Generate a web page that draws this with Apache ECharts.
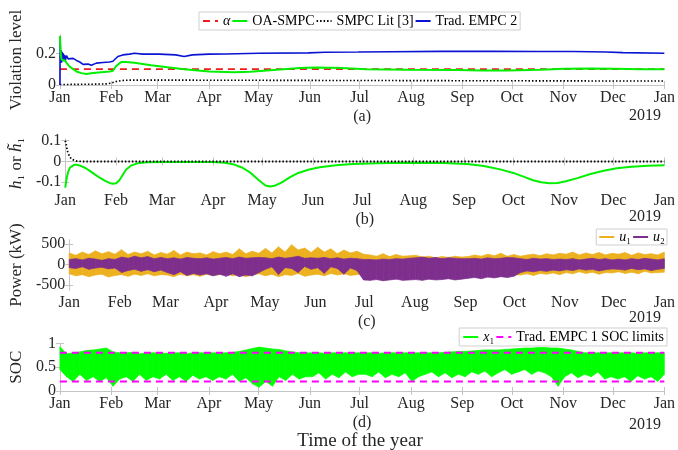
<!DOCTYPE html>
<html>
<head>
<meta charset="utf-8">
<script src="https://cdn.jsdelivr.net/npm/echarts@6/dist/echarts.min.js"></script>
<style>html,body{margin:0;padding:0;background:#fff}#c{width:678px;height:450px}</style>
</head>
<body>
<div id="c"></div>
<script>
// ---------- axis ticks ----------
const monthDays = [0, 31, 59, 90, 120, 151, 181, 212, 243, 273, 304, 334, 365];
const monthNames = ['Jan','Feb','Mar','Apr','May','Jun','Jul','Aug','Sep','Oct','Nov','Dec','Jan'];
const yTicksA = [0, 0.2];
const yTicksB = [-0.1, 0, 0.1];
const yTicksC = [-500, 0, 500];
const yTicksD = [0, 0.5, 1];

// ---------- panel (a): violation level, [day, value] ----------
const alphaLevel = [[0, 0.1], [365, 0.1]];
const oaSmpcViol = [[0,0.31],[0.5,0.2],[1,0.16],[2,0.15],[3,0.155],[4,0.14],[6,0.115],[8,0.1],[10,0.085],[13,0.075],[16,0.07],[20,0.075],[25,0.08],[30,0.085],[32,0.09],[34,0.12],[37,0.145],[40,0.145],[45,0.14],[55,0.125],[65,0.112],[75,0.1],[90,0.085],[105,0.08],[115,0.083],[125,0.092],[135,0.1],[145,0.108],[155,0.11],[170,0.107],[185,0.1],[210,0.097],[240,0.095],[255,0.092],[270,0.092],[290,0.097],[305,0.102],[320,0.104],[335,0.102],[350,0.1],[365,0.1]];
const smpcLitViol = [[0,0.003],[10,0.004],[20,0.005],[28,0.007],[31,0.012],[34,0.022],[37,0.028],[42,0.031],[60,0.031],[100,0.03],[150,0.029],[200,0.028],[250,0.027],[300,0.026],[365,0.025]];
const tradEmpc2Viol = [[0,0],[0.15,0.3],[0.4,0.15],[0.7,0.22],[1,0.14],[1.3,0.21],[1.6,0.15],[2,0.2],[2.4,0.15],[2.8,0.19],[3.3,0.155],[4,0.185],[5,0.165],[6,0.175],[8,0.168],[10,0.155],[12,0.145],[14,0.13],[15,0.123],[17,0.132],[19,0.124],[22,0.138],[26,0.142],[30,0.145],[32,0.15],[35,0.18],[38,0.19],[42,0.195],[45,0.2],[50,0.195],[60,0.195],[70,0.19],[75,0.18],[80,0.19],[90,0.195],[100,0.196],[120,0.2],[150,0.203],[160,0.207],[180,0.208],[200,0.21],[230,0.212],[260,0.212],[290,0.211],[310,0.211],[330,0.208],[340,0.204],[365,0.2]];

// ---------- panel (b): h1 ----------
const hOaSmpc = [[0,-0.126],[0.5,-0.1],[1,-0.075],[2,-0.045],[3,-0.028],[4,-0.02],[5.5,-0.016],[7,-0.016],[9,-0.02],[12,-0.03],[15,-0.045],[18,-0.062],[21,-0.078],[24,-0.092],[27,-0.103],[29,-0.107],[31,-0.105],[33,-0.09],[35,-0.065],[37,-0.04],[40,-0.02],[44,-0.009],[50,-0.004],[60,-0.002],[75,-0.002],[90,-0.003],[97,-0.006],[103,-0.015],[108,-0.03],[113,-0.055],[118,-0.09],[122,-0.115],[125,-0.12],[128,-0.115],[132,-0.1],[137,-0.075],[142,-0.055],[148,-0.04],[155,-0.028],[165,-0.018],[175,-0.012],[190,-0.008],[210,-0.006],[230,-0.007],[245,-0.012],[255,-0.022],[265,-0.038],[273,-0.055],[280,-0.075],[285,-0.09],[290,-0.1],[295,-0.105],[300,-0.103],[305,-0.095],[312,-0.08],[320,-0.06],[328,-0.045],[336,-0.033],[345,-0.025],[355,-0.02],[365,-0.018]];
const hSmpcLit = [[0,0.1],[0.5,0.085],[1,0.065],[1.5,0.048],[2,0.035],[3,0.02],[4,0.01],[5,0.005],[7,0.002],[10,0],[365,0]];

// ---------- panel (c): power envelopes (kW), one value every ~4 days ----------
const u1Max = [280,220,300,240,330,260,310,250, 360,240,300,260,320,230,290, 250,340,230,300,260,280,230,310, 260,300,240,380,260,320,270, 390,280,430,300,480,350,400,290, 420,300,380,260,350,280,320,250, 230,200,260,190,240,200,210, 220,180,200,160,190,170,200,180, 190,230,200,250,210,270,200,240, 200,230,250,210,260,230,270, 250,300,230,280,240,290,230,270, 250,290,220,280,240,260,230,300];
const u1Min = [-230,-280,-250,-300,-260,-240,-310,-270, -250,-290,-240,-270,-230,-280,-250, -260,-300,-240,-280,-250,-290,-240,-270, -250,-220,-280,-240,-300,-260,-230, -280,-240,-300,-250,-270,-220,-290,-260, -240,-280,-220,-260,-230,-270,-250,-220, -200,-220,-180,-210,-190,-220,-200, -200,-180,-210,-190,-220,-200,-180,-210, -200,-220,-190,-230,-210,-240,-220,-250, -260,-230,-270,-220,-240,-210,-250, -200,-230,-180,-220,-190,-240,-200,-210, -180,-220,-190,-230,-170,-210,-200,-190];
const u2Max = [120,140,110,150,130,100,140,120, 180,150,200,160,190,140,170, 140,160,130,170,150,140,160,130, 150,170,140,180,150,160,170, 160,140,180,150,170,200,150,160, 150,170,140,160,130,150,140,120, 120,110,130,120,140,130,150, 160,180,150,170,140,160,150,140, 140,150,130,160,140,150,170,160, 140,120,150,130,140,120,130, 120,140,110,130,150,120,140,110, 130,110,140,120,150,130,110,140];
const u2Min = [-80,-100,-60,-120,-90,-70,-110,-90, -200,-150,-120,-170,-130,-180,-140, -200,-250,-180,-270,-220,-260,-230,-280, -240,-290,-230,-300,-260,-280,-200, -120,-60,-250,-80,-100,-200,-50,-120, -80,-220,-60,-100,-240,-90,-150,-380, -390,-370,-400,-380,-360,-390,-380, -370,-390,-360,-380,-370,-350,-380,-360, -340,-320,-350,-310,-330,-300,-320,-290, -200,-160,-180,-150,-170,-140,-160, -130,-150,-110,-140,-120,-160,-130,-110, -120,-140,-100,-130,-110,-150,-120,-100];

// ---------- panel (d): SOC envelopes ----------
const x1Max = [0.93,0.78,0.8,0.82,0.85,0.86,0.88,0.9, 0.82,0.8,0.8,0.81,0.78,0.8,0.8, 0.8,0.79,0.8,0.8,0.78,0.8,0.8,0.8, 0.8,0.8,0.8,0.81,0.83,0.86,0.89, 0.92,0.9,0.88,0.87,0.84,0.82,0.8,0.8, 0.8,0.8,0.79,0.8,0.8,0.8,0.8,0.8, 0.8,0.8,0.79,0.8,0.8,0.8,0.8, 0.8,0.8,0.8,0.8,0.8,0.81,0.82,0.83, 0.83,0.84,0.85,0.86,0.86,0.86,0.87,0.88, 0.89,0.9,0.9,0.91,0.91,0.9,0.9, 0.88,0.86,0.83,0.8,0.8,0.8,0.8,0.8, 0.8,0.8,0.8,0.79,0.8,0.8,0.8,0.8];
const x1Min = [0.45,0.3,0.2,0.35,0.22,0.3,0.2,0.28, 0.1,0.25,0.3,0.2,0.35,0.22,0.3, 0.25,0.35,0.22,0.3,0.2,0.33,0.25,0.3, 0.22,0.3,0.25,0.35,0.2,0.28,0.15, 0.08,0.2,0.1,0.3,0.22,0.35,0.25,0.3, 0.3,0.38,0.25,0.35,0.28,0.4,0.3,0.35, 0.35,0.3,0.4,0.28,0.35,0.3,0.38, 0.2,0.3,0.35,0.4,0.3,0.38,0.28,0.35, 0.3,0.4,0.35,0.42,0.3,0.38,0.45,0.35, 0.4,0.45,0.35,0.42,0.38,0.3,0.1, 0.3,0.38,0.28,0.35,0.3,0.4,0.25,0.3, 0.25,0.3,0.2,0.32,0.25,0.3,0.2,0.35];
const socLower = [[0, 0.2], [365, 0.2]];
const socUpper = [[0, 0.8], [365, 0.8]];

// ---------- styling / layout ----------
const FONT = 'Liberation Serif';
const TXT = '#262626';
const BOX = '#c4c4c4';
const C = { red:'#ee1c1c', green:'#00f000', black:'#000000', blue:'#0a14d2', orange:'#EDB120', purple:'#7E2F8E', soc:'#00ff00', magenta:'#ff00ff' };

const grids = [
  { left: 57.7, right: 12, top: 35, height: 50 },
  { left: 57.7, right: 12, top: 139, height: 48.7 },
  { left: 57.7, right: 12, top: 240, height: 50 },
  { left: 57.7, right: 12, top: 343.3, height: 47.7 }
];
const yRanges = [[0, 0.3155], [-0.126, 0.108], [-625, 595], [0, 1]];
const yTicks = [yTicksA, yTicksB, yTicksC, yTicksD];
const yNames = ['Violation level', '{i|h}₁ or {i|h̃}₁', 'Power (kW)', 'SOC'];
const yNameGaps = [29, 35, 33, 32];

const xAxes = [], yAxes = [];
grids.forEach((g, gi) => {
  xAxes.push({
    type: 'value', gridIndex: gi, min: 0, max: 365, position: 'bottom',
    axisLine: { show: true, lineStyle: { color: BOX, width: 1 } },
    axisTick: { show: true, inside: true, length: 4, customValues: monthDays, lineStyle: { color: BOX } },
    axisLabel: { show: true, customValues: monthDays, margin: 5, color: TXT, fontFamily: FONT, fontSize: 16,
      formatter: v => monthNames[monthDays.indexOf(v)] },
    splitLine: { show: false },
    name: '(' + 'abcd'[gi] + ')', nameLocation: 'middle', nameGap: 24,
    nameTextStyle: { fontFamily: FONT, fontSize: 16, color: TXT }
  });
  xAxes.push({
    type: 'value', gridIndex: gi, min: 0, max: 365, position: 'top',
    axisLine: { show: true, lineStyle: { color: BOX, width: 1 } },
    axisTick: { show: true, inside: true, length: 4, customValues: monthDays, lineStyle: { color: BOX } },
    axisLabel: { show: false }, splitLine: { show: false }
  });
  yAxes.push({
    type: 'value', gridIndex: gi, min: yRanges[gi][0], max: yRanges[gi][1], position: 'left',
    axisLine: { show: true, lineStyle: { color: BOX, width: 1 } },
    axisTick: { show: true, inside: true, length: 4, customValues: yTicks[gi], lineStyle: { color: BOX } },
    axisLabel: { show: true, customValues: yTicks[gi], margin: 4, color: TXT, fontFamily: FONT, fontSize: 16 },
    splitLine: { show: false },
    name: yNames[gi], nameLocation: 'middle', nameGap: yNameGaps[gi], nameRotate: 90,
    nameTextStyle: { fontFamily: FONT, fontSize: 17, color: TXT,
      rich: { i: { fontFamily: FONT, fontSize: 17, fontStyle: 'italic', color: TXT } } }
  });
  yAxes.push({
    type: 'value', gridIndex: gi, min: yRanges[gi][0], max: yRanges[gi][1], position: 'right',
    axisLine: { show: true, lineStyle: { color: BOX, width: 1 } },
    axisTick: { show: true, inside: true, length: 4, customValues: yTicks[gi], lineStyle: { color: BOX } },
    axisLabel: { show: false }, splitLine: { show: false }
  });
});

function line(name, data, gi, color, width, type, z) {
  return { type: 'line', name, data, xAxisIndex: 2 * gi, yAxisIndex: 2 * gi, symbol: 'none',
    lineStyle: { color, width, type: type || 'solid' }, itemStyle: { color }, z: z || 2, silent: true };
}
// filled envelope between lo[] and hi[], drawn as quads through the axis scales
function band(id, lo, hi, gi, color, z) {
  const n = lo.length;
  const day = i => i * 365 / (n - 1);
  const data = [];
  for (let i = 0; i < n - 1; i++) data.push([day(i), lo[i], hi[i], day(i + 1), lo[i + 1], hi[i + 1]]);
  return {
    type: 'custom', name: id, xAxisIndex: 2 * gi, yAxisIndex: 2 * gi, z: z || 2, silent: true,
    encode: { x: 0, y: 1 }, data,
    renderItem: (params, api) => {
      const a = api.coord([api.value(0), api.value(1)]);
      const b = api.coord([api.value(0), api.value(2)]);
      const c = api.coord([api.value(3), api.value(5)]);
      const d = api.coord([api.value(3), api.value(4)]);
      return { type: 'polygon', shape: { points: [a, b, c, d] },
        style: { fill: color, stroke: color, lineWidth: 0.7 } };
    }
  };
}

const series = [
  line('α', alphaLevel, 0, C.red, 1.6, [7, 5], 3),
  line('OA-SMPC', oaSmpcViol, 0, C.green, 2, 'solid', 4),
  line('SMPC Lit [3]', smpcLitViol, 0, C.black, 1.6, [1.5, 2], 3),
  line('Trad. EMPC 2', tradEmpc2Viol, 0, C.blue, 1.6, 'solid', 3),
  line('h OA', hOaSmpc, 1, C.green, 2, 'solid', 3),
  line('h lit', hSmpcLit, 1, C.black, 1.8, [1.5, 2], 4),
  band('u1band', u1Min, u1Max, 2, C.orange, 2),
  band('u2band', u2Min, u2Max, 2, C.purple, 3),
  line('u1', [], 2, C.orange, 2),
  line('u2', [], 2, C.purple, 2),
  band('x1band', x1Min, x1Max, 3, C.soc, 2),
  line('x1', [], 3, C.soc, 2),
  line('Trad. EMPC 1 SOC limits', socLower, 3, C.magenta, 2, [7, 5], 5),
  line('Trad. EMPC 1 SOC limits', socUpper, 3, C.magenta, 2, [7, 5], 5)
];

const legendText = {
  fontFamily: FONT, fontSize: 14, color: '#000',
  rich: { i: { fontFamily: FONT, fontSize: 14, fontStyle: 'italic', color: '#000' } }
};
const legendFmt = n => {
  if (n === 'α') return '{i|α}';
  if (n === 'u1') return '{i|u}₁';
  if (n === 'u2') return '{i|u}₂';
  if (n === 'x1') return '{i|x}₁';
  return n;
};
const legendBase = { orient: 'horizontal', itemWidth: 15, itemHeight: 10, itemGap: 1, selectedMode: false,
  backgroundColor: '#fff', borderColor: '#cfcfcf', borderWidth: 1, padding: [2, 3, 2, 3],
  itemStyle: { color: 'rgba(0,0,0,0)', borderWidth: 0, opacity: 0 },
  textStyle: legendText, formatter: legendFmt, z: 10 };

const option = {
  animation: false,
  backgroundColor: '#fff',
  grid: grids,
  xAxis: xAxes,
  yAxis: yAxes,
  legend: [
    Object.assign({}, legendBase, { data: ['α', 'OA-SMPC', 'SMPC Lit [3]', 'Trad. EMPC 2'], left: 199, top: 12 }),
    Object.assign({}, legendBase, { data: ['u1', 'u2'], right: 11, top: 229, padding: [1, 2, 1, 2] }),
    Object.assign({}, legendBase, { data: ['x1', 'Trad. EMPC 1 SOC limits'], right: 11, top: 328 })
  ],
  graphic: [116, 217, 318, 425].map(y => ({
    type: 'text', x: 645, y, style: { text: '2019', fontFamily: FONT, fontSize: 16, fill: TXT, align: 'center', verticalAlign: 'middle' }
  })).concat([{
    type: 'text', x: 360, y: 441, style: { text: 'Time of the year', fontFamily: FONT, fontSize: 19, fill: TXT, align: 'center', verticalAlign: 'middle' }
  }]),
  series
};

const chart = echarts.init(document.getElementById('c'), null, { renderer: 'canvas' });
chart.setOption(option);
</script>
</body>
</html>
